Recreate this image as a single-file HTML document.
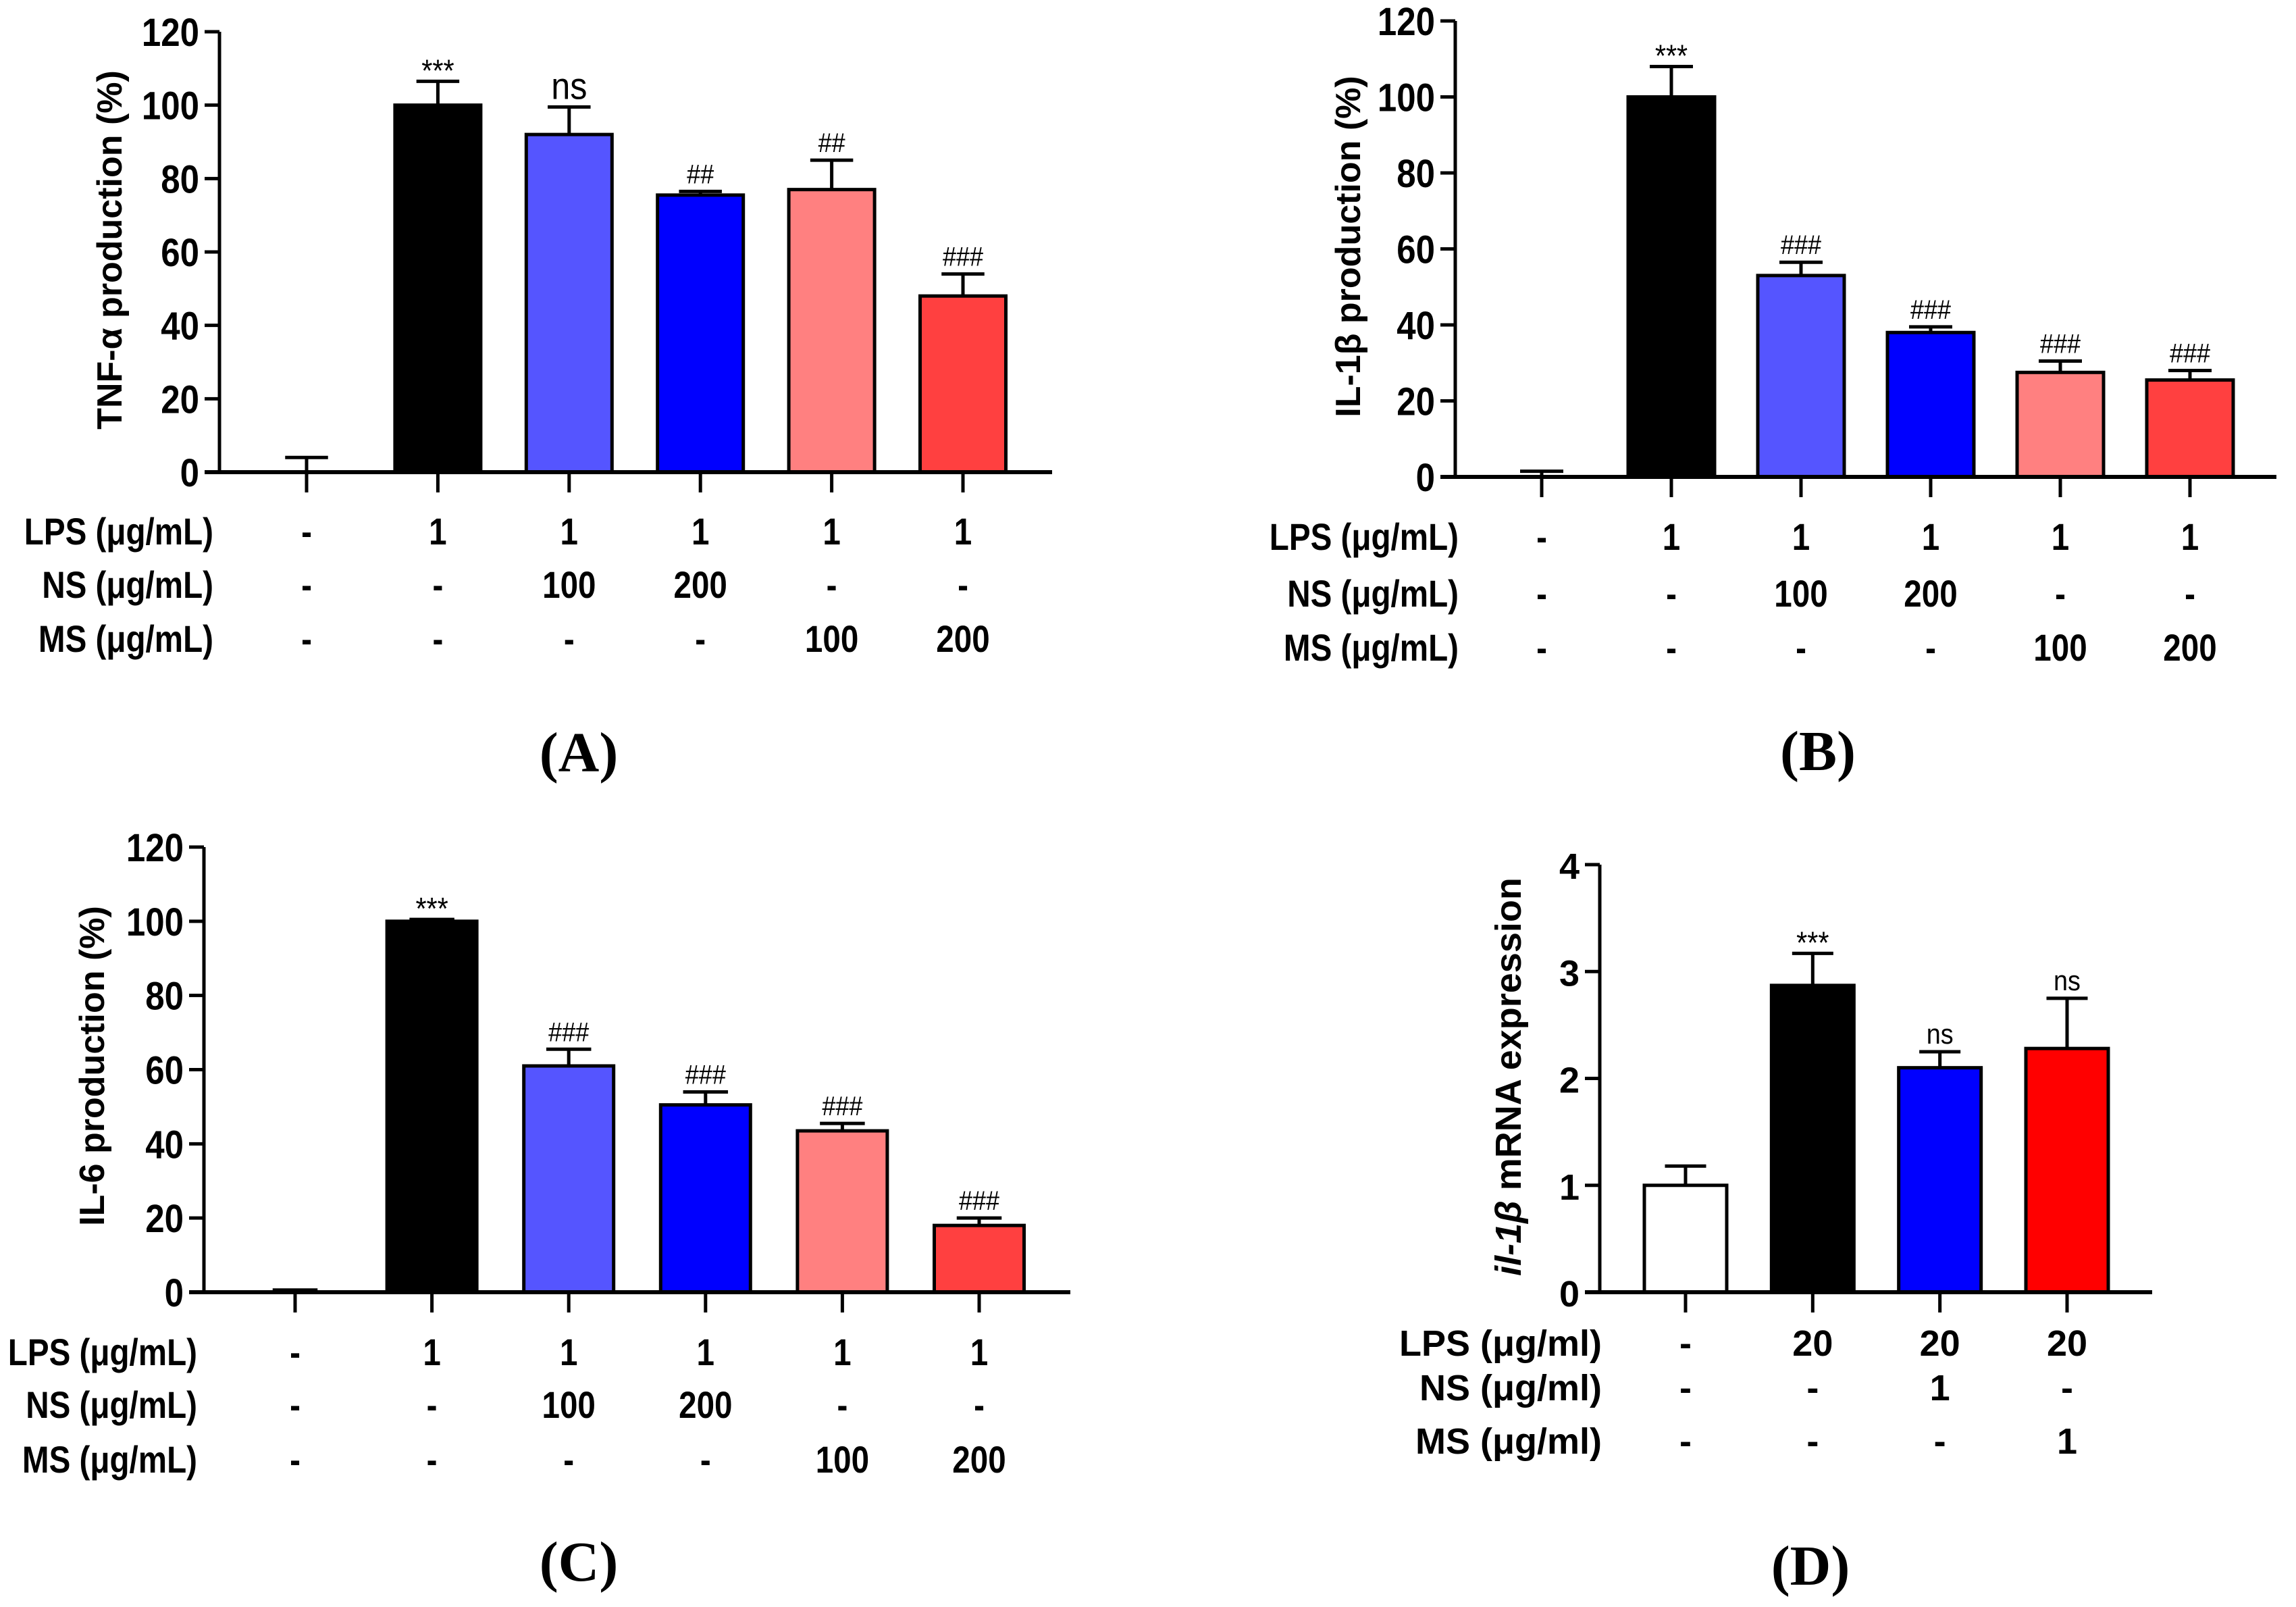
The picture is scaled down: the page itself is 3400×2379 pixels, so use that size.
<!DOCTYPE html>
<html><head><meta charset="utf-8"><style>
html,body{margin:0;padding:0;background:#fff}
svg{display:block}
text{font-family:"Liberation Sans",sans-serif}
</style></head><body>
<svg id="fig" width="3400" height="2379" viewBox="0 0 3400 2379" xmlns="http://www.w3.org/2000/svg"></svg>
<script>
// Panel A: TNF-alpha
const aValues=[0,100,92,75.5,77,48];
const aErrors=[4,6.5,7.5,1,8,6];
const aMarks=["","***","ns","##","##","###"];
// Panel B: IL-1beta
const bValues=[0,100,53,38,27.5,25.5];
const bErrors=[1.5,8,3.5,1.5,3,2.5];
const bMarks=["","***","###","###","###","###"];
// Panel C: IL-6
const cValues=[0,100,61,50.5,43.5,18];
const cErrors=[0.6,0.5,4.5,3.5,2,2];
const cMarks=["","***","###","###","###","###"];
// Panel D: il-1b mRNA
const dValues=[1,2.87,2.1,2.28];
const dErrors=[0.18,0.3,0.15,0.47];
const dMarks=["","***","ns","ns"];
const pctTicks=[0,20,40,60,80,100,120];
const dTicks=[0,1,2,3,4];
const lpsRow=["-","1","1","1","1","1"];
const nsRow=["-","-","100","200","-","-"];
const msRow=["-","-","-","-","100","200"];
const dLps=["-","20","20","20"];
const dNs=["-","-","1","-"];
const dMs=["-","-","-","1"];

const svg=document.getElementById('fig');
const NS='http://www.w3.org/2000/svg';
function mk(tag,attrs,parent){const e=document.createElementNS(NS,tag);for(const k in attrs)e.setAttribute(k,attrs[k]);(parent||svg).appendChild(e);return e;}
function txt(s,attrs,parent){const e=mk('text',attrs,parent);e.textContent=s;return e;}
function ctxt(s,x,y,anchor,fs,sx,parent){
  return txt(s,{x:0,y:0,transform:`translate(${x},${y}) scale(${sx},1)`,'text-anchor':anchor,'font-size':fs,'font-weight':'bold'},parent);
}

function panel(cfg){
  const g=mk('g',{});
  
  
  const ymax=cfg.ticks[cfg.ticks.length-1];
  const y=v=>cfg.y0-(v/ymax)*(cfg.y0-cfg.ytop);
  const n=cfg.values.length;
  const x=i=>cfg.c0+i*(cfg.c1-cfg.c0)/(n-1);
  for(let i=0;i<n;i++){
    const v=cfg.values[i], e=cfg.errors[i], cx=x(i);
    if(v>0){
      const r=mk('rect',{x:cx-cfg.bw/2,y:y(v),width:cfg.bw,height:cfg.y0-y(v),fill:cfg.colors[i],stroke:'#000','stroke-width':5},g);
      
      
    }
    const eb=mk('path',{d:`M${cx} ${y(v)} V${y(v+e)} M${cx-cfg.bw/4} ${y(v+e)} H${cx+cfg.bw/4}`,stroke:'#000','stroke-width':5,fill:'none'},g);
    
    
    if(cfg.marks[i]){
      const m=cfg.marks[i];
      const big=m==='ns'&&cfg.bigNs;
      const fs=big?56:(m==='ns'?42:(m==='***'?46:40));
      const t=ctxt(m,cx,y(v+e)-(m==='***'?0:12),'middle',fs,0.9,g);
      
      
      t.setAttribute('font-weight','normal');
    }
    mk('line',{x1:cx,x2:cx,y1:cfg.y0,y2:cfg.y0+30,stroke:'#000','stroke-width':5},g);
  }
  const ya=mk('line',{x1:cfg.ax,x2:cfg.ax,y1:cfg.ytop,y2:cfg.y0,stroke:'#000','stroke-width':5},g);
  
  
  const xa=mk('line',{x1:cfg.ax-22,x2:cfg.xend,y1:cfg.y0,y2:cfg.y0,stroke:'#000','stroke-width':6},g);
  
  
  for(const t of cfg.ticks){
    mk('line',{x1:cfg.ax-22,x2:cfg.ax,y1:y(t),y2:y(t),stroke:'#000','stroke-width':5},g);
    const tl=ctxt(String(t),cfg.ax-30,y(t)+21,'end',cfg.tickFs,cfg.sx,g);
    
    
  }
  const yt=txt('',{transform:`translate(${cfg.tx},${cfg.ty}) rotate(-90)`,'text-anchor':'middle','font-size':cfg.titleFs,'font-weight':'bold'},g);
  
  
  cfg.title(yt);
  cfg.rows.forEach((row,ri)=>{
    const ry=cfg.rowY[ri];
    const rl=ctxt(cfg.rowLabels[ri],cfg.rowRight,ry+19,'end',cfg.rowFs,cfg.rowSx,g);
    
    
    row.forEach((s,i)=>{
      const c=ctxt(s,x(i),ry+19,'middle',cfg.rowFs,cfg.rowSx,g);
      
      
    });
  });
  const pl=txt(cfg.letter,{x:cfg.lx,y:cfg.ly+28,'text-anchor':'middle','font-size':84,'font-weight':600,style:'font-family:"Liberation Serif",serif'},g);
  
  
}
const cols6=['#000000','#5555ff','#0000ff','#ff8080','#ff4040'];
const colorsA=['#fff'].concat(cols6);
const rowLabelsU=['LPS (\u03bcg/mL)','NS (\u03bcg/mL)','MS (\u03bcg/mL)'];
function simpleTitle(s){return t=>{t.textContent=s;};}

panel({name:'panel-a-tnf',values:aValues,errors:aErrors,marks:aMarks,bigNs:true,colors:colorsA,ticks:pctTicks,
 ax:325,ytop:47,y0:699,xend:1558,c0:454,c1:1426,bw:127,tickFs:58,sx:0.88,titleFs:52,tx:180,ty:370,
 title:simpleTitle('TNF-\u03b1 production (%)'),rows:[lpsRow,nsRow,msRow],rowLabels:rowLabelsU,rowY:[787,866,946],rowRight:316,rowFs:56,rowSx:0.85,letter:'(A)',lx:857,ly:1114});
panel({name:'panel-b-il1b',values:bValues,errors:bErrors,marks:bMarks,colors:colorsA,ticks:pctTicks,
 ax:2155,ytop:31,y0:706,xend:3371,c0:2283,c1:3243,bw:128,tickFs:58,sx:0.88,titleFs:52,tx:2014,ty:365,
 title:simpleTitle('IL-1\u03b2 production (%)'),rows:[lpsRow,nsRow,msRow],rowLabels:rowLabelsU,rowY:[795,879,959],rowRight:2160,rowFs:56,rowSx:0.85,letter:'(B)',lx:2692,ly:1112});
panel({name:'panel-c-il6',values:cValues,errors:cErrors,marks:cMarks,colors:colorsA,ticks:pctTicks,
 ax:302,ytop:1254,y0:1913,xend:1585,c0:437,c1:1450,bw:133,tickFs:58,sx:0.88,titleFs:52,tx:154,ty:1578,
 title:simpleTitle('IL-6 production (%)'),rows:[lpsRow,nsRow,msRow],rowLabels:rowLabelsU,rowY:[2002,2080,2161],rowRight:292,rowFs:56,rowSx:0.85,letter:'(C)',lx:857,ly:2312});
panel({name:'panel-d-mrna',values:dValues,errors:dErrors,marks:dMarks,colors:['#ffffff','#000000','#0000ff','#ff0000'],ticks:dTicks,
 ax:2369,ytop:1280,y0:1913,xend:3187,c0:2496,c1:3061,bw:122,tickFs:54,sx:1,titleFs:54,tx:2252,ty:1594,
 title:t=>{const a=mk('tspan',{'font-style':'italic'},t);a.textContent='il-1\u03b2';const b=mk('tspan',{},t);b.textContent=' mRNA expression';},
 rows:[dLps,dNs,dMs],rowLabels:['LPS (\u03bcg/ml)','NS (\u03bcg/ml)','MS (\u03bcg/ml)'],rowY:[1988,2054,2133],rowRight:2372,rowFs:54,rowSx:1,letter:'(D)',lx:2681,ly:2318});
</script>
</body></html>
